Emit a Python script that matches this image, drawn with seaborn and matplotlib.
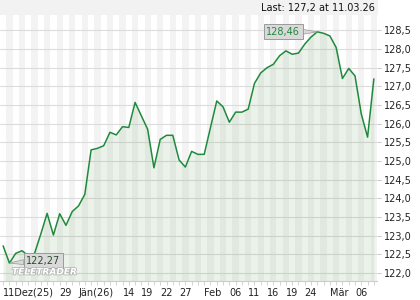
import numpy as np
import pandas as pd
import seaborn as sns
import matplotlib
matplotlib.use("Agg")
import matplotlib.pyplot as plt
from matplotlib.patches import Rectangle
import matplotlib.patheffects as pe

# ---- data (trading-day index -> closing value) ----
values = [122.73, 122.27, 122.53, 122.60, 122.47, 122.53, 123.05, 123.60, 123.02, 123.59,
          123.28, 123.65, 123.80, 124.11, 125.30, 125.34, 125.41, 125.77, 125.70, 125.92,
          125.90, 126.57, 126.21, 125.85, 124.82, 125.58, 125.69, 125.69, 125.03, 124.84,
          125.26, 125.18, 125.18, 125.90, 126.61, 126.45, 126.04, 126.31, 126.31, 126.39,
          127.08, 127.36, 127.50, 127.59, 127.82, 127.95, 127.86, 127.89, 128.13, 128.32,
          128.46, 128.42, 128.35, 128.04, 127.21, 127.48, 127.28, 126.26, 125.64, 127.20]
tick_idx = [0, 9, 12, 19, 22, 25, 28, 32, 36, 39, 42, 45, 48, 52, 56]
tick_labels = ["11Dez(25)", "29", "Jän(26)", "14", "19", "22", "27", "Feb", "06",
               "11", "16", "19", "24", "Mär", "06"]
y_ticks = [122.0, 122.5, 123.0, 123.5, 124.0, 124.5, 125.0, 125.5, 126.0,
           126.5, 127.0, 127.5, 128.0, 128.5]
last_text = "Last: 127,2 at 11.03.26"
max_label = "128,46"
min_label = "122,27"

df = pd.DataFrame({"idx": np.arange(len(values)), "value": values})

sns.set_theme(style="white")
plt.rcParams['font.family'] = ['DejaVu Sans']

W, H = 420, 300
fig = plt.figure(figsize=(4.2, 3.0), dpi=100)
fig.patch.set_facecolor("white")
ax = fig.add_axes([0, 19 / H, 377 / W, 266 / H])
ax.set_facecolor("white")

ymin, ymax = 121.79, 128.91
n = len(values)
ax.set_xlim(-0.5, n - 0.5)
ax.set_ylim(ymin, ymax)

# alternating day stripes
for i in range(n):
    if i % 2 == 1:
        ax.axvspan(i - 0.5, i + 0.5, color="#f3f3f3", lw=0, zorder=0)

ax.set_axisbelow(True)
ax.yaxis.grid(True, color="#dcdcdc", lw=0.8)
ax.xaxis.grid(False)

ax.fill_between(df["idx"], df["value"], ymin, color="#5a9a50", alpha=0.12, lw=0, zorder=1)
sns.lineplot(data=df, x="idx", y="value", color="#1f8a3c", lw=1.1, ax=ax, zorder=3)
ax.set_xlabel("")
ax.set_ylabel("")

# y axis on the right
ax.yaxis.tick_right()
ax.set_yticks(y_ticks)
ax.set_yticklabels([f"{v:.1f}".replace(".", ",") for v in y_ticks])
ax.tick_params(axis="y", length=3, width=0.6, color="#bbbbbb", labelsize=7,
               pad=2, labelcolor="#222222", right=True, left=False)

# x axis
ax.set_xticks(tick_idx)
ax.set_xticklabels(tick_labels, ha="left")
ax.set_xticks(np.arange(n), minor=True)
ax.tick_params(axis="x", which="both", length=3, width=0.6, color="#cccccc",
               labelsize=7, pad=2, labelcolor="#222222", bottom=True)

for s in ["left", "right", "top"]:
    ax.spines[s].set_visible(False)
ax.spines["bottom"].set_color("#cccccc")
ax.spines["bottom"].set_linewidth(0.8)

# top grey bar + last text
fig.patches.append(Rectangle((0, 1 - 15 / H), 378 / W, 15 / H, transform=fig.transFigure,
                             facecolor="#f2f2f2", edgecolor="none", zorder=0))
fig.text(375 / W, 1 - 7.5 / H, last_text, ha="right", va="center", fontsize=7, color="#111111")

# max / min annotations
imax = int(np.argmax(values))
imin = int(np.argmin(values))
bbox = dict(boxstyle="square,pad=0.25", fc="#d9d9d9", ec="#9a9a9a", lw=0.7)
ax.annotate(max_label, xy=(imax, values[imax]), xytext=(-24.6, 0), textcoords="offset points",
            ha="center", va="center", fontsize=7, color="#1f8a3c", bbox=bbox, zorder=5,
            arrowprops=dict(arrowstyle="wedge,tail_width=0.5", fc="#d9d9d9", ec="#9a9a9a",
                            lw=0.5, shrinkA=0, shrinkB=0))
ax.annotate(min_label, xy=(imin, values[imin]), xytext=(24.5, 1.6), textcoords="offset points",
            ha="center", va="center", fontsize=7, color="#2d4a2d", bbox=bbox, zorder=5,
            arrowprops=dict(arrowstyle="wedge,tail_width=0.5", fc="#d9d9d9", ec="#9a9a9a",
                            lw=0.5, shrinkA=0, shrinkB=0))

# watermark
fig.text(12 / W, 1 - 272 / H, "TELETRADER", fontsize=6.5, fontweight="bold", style="italic",
         color="white", va="center", ha="left", zorder=10,
         path_effects=[pe.withStroke(linewidth=1.2, foreground="#b5b5b5")])

fig.savefig("out.png", dpi=100, facecolor="white")
